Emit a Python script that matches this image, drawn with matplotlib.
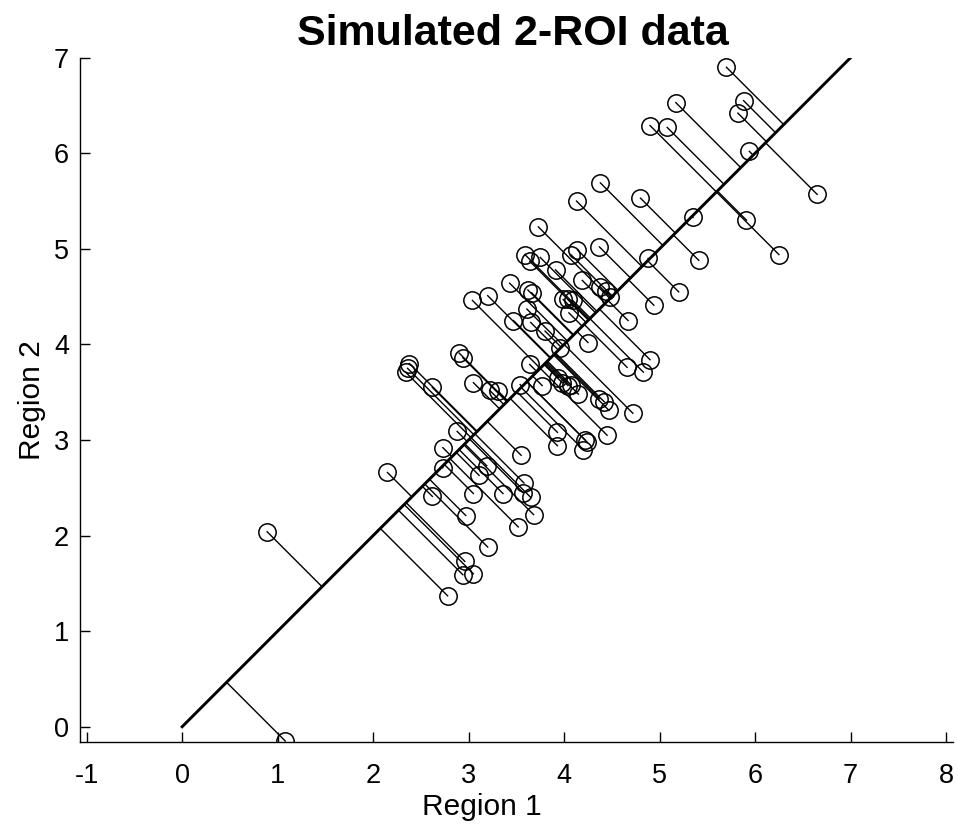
import matplotlib
matplotlib.use("Agg")
import matplotlib.pyplot as plt
import numpy as np

plt.rcParams["font.family"] = ["Liberation Sans", "DejaVu Sans"]
plt.rcParams["axes.unicode_minus"] = False

# simulated ROI values
region1 = [5.70, 5.17, 5.88, 5.82, 4.90, 5.08, 5.94, 6.65, 4.38, 4.13,
           4.80, 5.35, 5.91, 3.73, 5.41, 6.25, 3.59, 3.75, 3.64, 4.14,
           4.07, 4.37, 4.88, 3.91, 4.19, 3.43, 4.38, 4.44, 4.48, 5.20,
           3.20, 3.04, 3.62, 3.66, 3.99, 4.04, 4.09, 4.05, 4.94, 3.61,
           3.47, 3.65, 4.67, 3.80, 4.25, 3.96, 2.90, 2.94, 2.38, 2.36,
           2.34, 4.90, 3.64, 4.66, 4.83, 2.62, 3.05, 3.22, 3.31, 3.54,
           3.77, 3.94, 3.98, 4.04, 4.07, 4.15, 4.37, 4.42, 4.47, 4.72,
           2.88, 3.55, 3.93, 3.93, 4.45, 4.22, 4.24, 4.20, 2.73, 2.73,
           2.15, 3.19, 3.11, 3.58, 3.57, 3.65, 3.05, 3.36, 2.62, 2.97,
           3.68, 3.52, 3.20, 2.96, 2.94, 3.05, 2.78, 0.89, 1.08]
region2 = [6.90, 6.53, 6.55, 6.42, 6.29, 6.27, 6.02, 5.57, 5.69, 5.50,
           5.53, 5.33, 5.30, 5.23, 4.88, 4.94, 4.94, 4.91, 4.87, 4.99,
           4.94, 5.02, 4.90, 4.78, 4.67, 4.64, 4.60, 4.56, 4.50, 4.55,
           4.51, 4.46, 4.57, 4.54, 4.47, 4.47, 4.46, 4.33, 4.41, 4.37,
           4.25, 4.23, 4.25, 4.14, 4.02, 3.96, 3.91, 3.86, 3.80, 3.75,
           3.71, 3.84, 3.79, 3.76, 3.71, 3.55, 3.60, 3.52, 3.51, 3.58,
           3.57, 3.65, 3.60, 3.57, 3.58, 3.48, 3.43, 3.40, 3.31, 3.28,
           3.09, 2.84, 3.08, 2.94, 3.05, 3.00, 2.98, 2.90, 2.92, 2.71,
           2.66, 2.73, 2.63, 2.55, 2.45, 2.40, 2.44, 2.44, 2.41, 2.21,
           2.22, 2.09, 1.88, 1.73, 1.59, 1.60, 1.37, 2.04, -0.15]
diag_range = [0, 7]

x = np.array(region1)
y = np.array(region2)
foot = (x + y) / 2  # orthogonal projection onto the y = x line

fig = plt.figure(figsize=(9.58, 8.3), dpi=100)
ax = fig.add_axes([0.0835, 0.106, 0.911, 0.8245])

ax.plot(diag_range, diag_range, color="black", linewidth=2.1, zorder=3)
for xi, yi, fi in zip(x, y, foot):
    ax.plot([xi, fi], [yi, fi], color="black", linewidth=1.0, zorder=2)
ax.plot(x, y, "o", markersize=12.5, markerfacecolor="none",
        markeredgecolor="black", markeredgewidth=1.1, zorder=4)

ax.set_xlim(-1.07, 8.07)
ax.set_ylim(-0.16, 7.0)
ax.set_xticks(range(-1, 9))
ax.set_yticks(range(0, 8))
for side in ("top", "right"):
    ax.spines[side].set_visible(False)
for side in ("left", "bottom"):
    ax.spines[side].set_linewidth(1.0)
ax.tick_params(direction="in", length=7, width=1.0, labelsize=19.5)
ax.tick_params(axis="x", pad=15)
ax.tick_params(axis="y", pad=8)

ax.set_xlabel("Region 1", fontsize=21.5, va="baseline")
ax.xaxis.set_label_coords(0.461, -0.106)
ax.set_ylabel("Region 2", fontsize=21.5)
ax.yaxis.set_label_coords(-0.039, 0.5)

fig.text(0.5355, 1 - 45 / 830, "Simulated 2-ROI data", fontsize=31,
         fontweight="bold", ha="center", va="baseline")

fig.savefig("out.png", dpi=100)
